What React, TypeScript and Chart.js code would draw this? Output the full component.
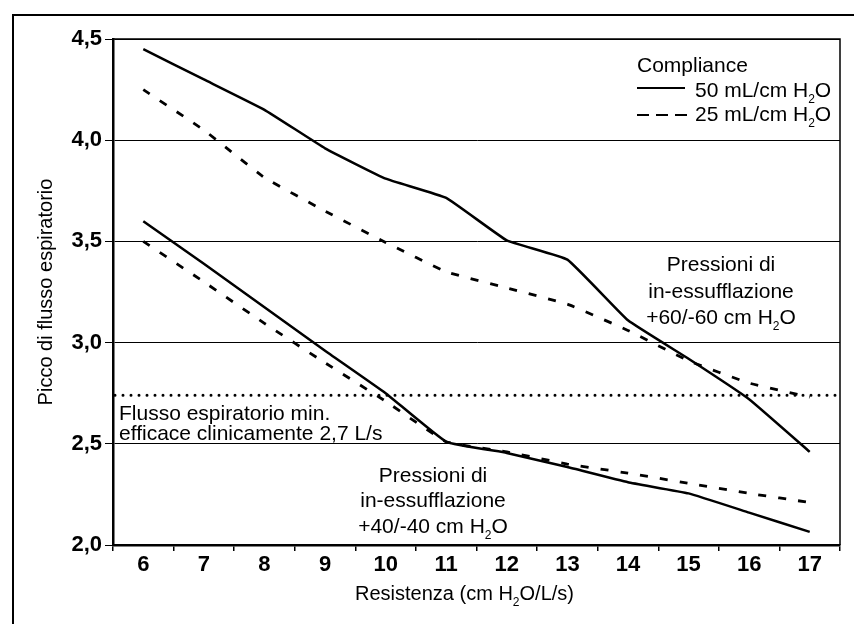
import React, { useEffect, useRef } from "react";
import { Chart, registerables } from "chart.js";

Chart.register(...registerables);

const categories = ["6", "7", "8", "9", "10", "11", "12", "13", "14", "15", "16", "17"];
const upper50 = [4.45, 4.3, 4.15, 3.96, 3.81, 3.715, 3.505, 3.41, 3.11, 2.92, 2.72, 2.46];
const upper25 = [4.25, 4.05, 3.815, 3.65, 3.495, 3.35, 3.27, 3.19, 3.06, 2.91, 2.8, 2.73];
const lower50 = [3.6, 3.39, 3.175, 2.96, 2.75, 2.51, 2.455, 2.385, 2.31, 2.255, 2.16, 2.065];
const lower25 = [3.5, 3.3, 3.095, 2.9, 2.71, 2.51, 2.46, 2.4, 2.355, 2.305, 2.255, 2.21];
const minEffectiveFlow = 2.74;
const yMin = 2.0;
const yMax = 4.5;
const yStep = 0.5;

const xTitle = "Resistenza (cm H₂O/L/s)";
const yTitle = "Picco di flusso espiratorio";
const legendTitle = "Compliance";
const legendLabels = ["50 mL/cm H₂O", "25 mL/cm H₂O"];
const upperNote = ["Pressioni di", "in-essufflazione", "+60/-60 cm H₂O"];
const lowerNote = ["Pressioni di", "in-essufflazione", "+40/-40 cm H₂O"];
const flowNote = ["Flusso espiratorio min.", "efficace clinicamente 2,7 L/s"];

const FONT = "'Liberation Sans', Arial, sans-serif";
const TICK_FONT = "'Liberation Sans Narrow', 'Liberation Sans', Arial, sans-serif";

function drawRich(
  ctx: CanvasRenderingContext2D,
  text: string,
  x: number,
  y: number,
  align: "left" | "center" | "right",
  size: number,
  weight = "normal"
) {
  const main = `${weight} ${size}px ${FONT}`;
  const subSize = Math.round(size * 0.58);
  const sub = `${weight} ${subSize}px ${FONT}`;
  const parts = text.split("₂");
  let total = 0;
  const widths: number[] = [];
  parts.forEach((p, i) => {
    ctx.font = main;
    const w = ctx.measureText(p).width;
    widths.push(w);
    total += w;
    if (i < parts.length - 1) {
      ctx.font = sub;
      total += ctx.measureText("2").width;
    }
  });
  let cx = x;
  if (align === "center") cx = x - total / 2;
  else if (align === "right") cx = x - total;
  ctx.textAlign = "left";
  ctx.textBaseline = "alphabetic";
  parts.forEach((p, i) => {
    ctx.font = main;
    ctx.fillText(p, cx, y);
    cx += widths[i];
    if (i < parts.length - 1) {
      ctx.font = sub;
      ctx.fillText("2", cx, y + size * 0.3);
      cx += ctx.measureText("2").width;
    }
  });
}

const decorPlugin = {
  id: "decor",
  afterDraw(chart: any) {
    const ctx: CanvasRenderingContext2D = chart.ctx;
    const area = chart.chartArea;
    const yScale = chart.scales.y;
    ctx.save();
    ctx.fillStyle = "#000";
    ctx.strokeStyle = "#000";

    // outer frame
    ctx.lineWidth = 2;
    ctx.beginPath();
    ctx.moveTo(13, 624);
    ctx.lineTo(13, 15);
    ctx.lineTo(854, 15);
    ctx.stroke();

    // top & right plot borders
    ctx.lineWidth = 1.5;
    ctx.beginPath();
    ctx.moveTo(area.left, area.top);
    ctx.lineTo(area.right, area.top);
    ctx.lineTo(area.right, area.bottom);
    ctx.stroke();

    // dotted threshold line
    const yd = yScale.getPixelForValue(minEffectiveFlow);
    ctx.lineWidth = 3;
    ctx.lineCap = "round";
    ctx.setLineDash([0, 8]);
    ctx.beginPath();
    ctx.moveTo(area.left + 2, yd);
    ctx.lineTo(area.right, yd);
    ctx.stroke();
    ctx.setLineDash([]);
    ctx.lineCap = "butt";

    // legend
    drawRich(ctx, legendTitle, 637, 72, "left", 21);
    ctx.lineWidth = 2;
    ctx.beginPath();
    ctx.moveTo(637, 88);
    ctx.lineTo(685, 88);
    ctx.stroke();
    drawRich(ctx, legendLabels[0], 695, 97, "left", 21);
    ctx.setLineDash([12, 7]);
    ctx.lineWidth = 2.2;
    ctx.beginPath();
    ctx.moveTo(637, 115);
    ctx.lineTo(687, 115);
    ctx.stroke();
    ctx.setLineDash([]);
    drawRich(ctx, legendLabels[1], 695, 121, "left", 21);

    // annotations
    const upBase = [271, 298, 324];
    upperNote.forEach((t, i) => drawRich(ctx, t, 721, upBase[i], "center", 21));
    const lowBase = [482, 507, 533];
    lowerNote.forEach((t, i) => drawRich(ctx, t, 433, lowBase[i], "center", 21));
    const flowBase = [420, 440];
    flowNote.forEach((t, i) => drawRich(ctx, t, 119, flowBase[i], "left", 21));

    // axis titles
    drawRich(ctx, xTitle, (area.left + area.right) / 2 - 12, 600, "center", 20);
    ctx.save();
    ctx.translate(52, 292);
    ctx.rotate(-Math.PI / 2);
    drawRich(ctx, yTitle, 0, 0, "center", 20);
    ctx.restore();

    ctx.restore();
  },
};

export default function App() {
  const ref = useRef<HTMLCanvasElement | null>(null);
  useEffect(() => {
    if (!ref.current) return;
    const chart = new Chart(ref.current, {
      type: "line",
      data: {
        labels: categories,
        datasets: [
          { label: "50 +60", data: upper50, borderColor: "#000", borderWidth: 2.5, pointRadius: 0, tension: 0.1 },
          { label: "25 +60", data: upper25, borderColor: "#000", borderWidth: 2.8, borderDash: [8, 12], pointRadius: 0, tension: 0.1 },
          { label: "50 +40", data: lower50, borderColor: "#000", borderWidth: 2.5, pointRadius: 0, tension: 0.1 },
          { label: "25 +40", data: lower25, borderColor: "#000", borderWidth: 2.8, borderDash: [8, 12], pointRadius: 0, tension: 0.1 },
        ],
      },
      options: {
        responsive: false,
        animation: false,
        devicePixelRatio: 1,
        layout: { padding: { top: 39, right: 14, left: 0, bottom: 0 } },
        plugins: { legend: { display: false }, tooltip: { enabled: false }, title: { display: false } },
        scales: {
          x: {
            type: "category",
            offset: true,
            grid: { offset: true, drawOnChartArea: false, drawTicks: true, tickLength: 6, color: "#000", lineWidth: 1.5 },
            border: { display: true, color: "#000", width: 2.5 },
            ticks: { color: "#000", font: { family: TICK_FONT, size: 22, weight: "bold" }, padding: 1, maxRotation: 0, autoSkip: false },
            afterFit: (s: any) => { s.height = 79; },
          },
          y: {
            min: yMin,
            max: yMax,
            grid: { color: "#000", lineWidth: 1, drawTicks: true, tickLength: 8 },
            border: { display: true, color: "#000", width: 2.5 },
            ticks: {
              stepSize: yStep,
              color: "#000",
              padding: 3,
              font: { family: TICK_FONT, size: 22, weight: "bold" },
              callback: (v: any) => Number(v).toFixed(1).replace(".", ","),
            },
            afterFit: (s: any) => { s.width = 113; },
          },
        },
      },
      plugins: [decorPlugin],
    });
    return () => chart.destroy();
  }, []);
  return (
    <div style={{ position: "absolute", left: 0, top: 0, width: 854, height: 624, background: "#fff" }}>
      <canvas ref={ref} width={854} height={624} style={{ display: "block", width: 854, height: 624 }} />
    </div>
  );
}
